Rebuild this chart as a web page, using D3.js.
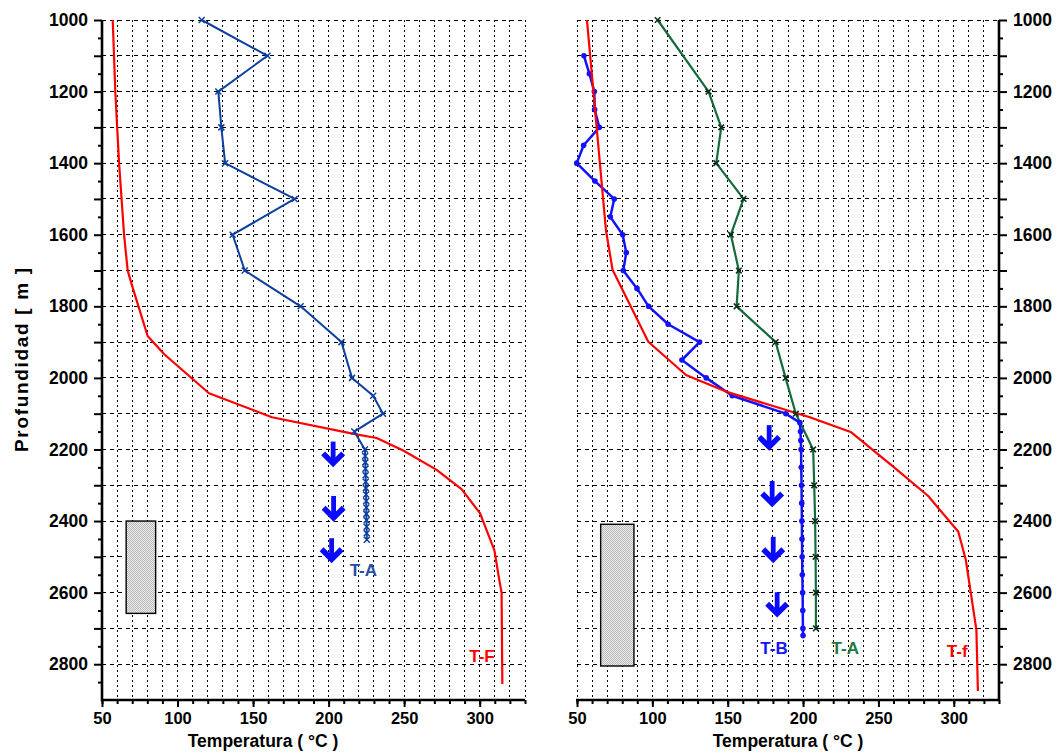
<!DOCTYPE html>
<html>
<head>
<meta charset="utf-8">
<script src="https://cdn.jsdelivr.net/npm/d3@7"></script>
<style>
  html, body { margin: 0; padding: 0; background: #fff; }
  svg { display: block; }
  text { font-family: "Liberation Sans", Arial, sans-serif; font-weight: bold; }
</style>
</head>
<body>
<svg id="chart" width="1057" height="753"></svg>
<script>
// ---------------- DATA ----------------
const xTickValues = [50, 100, 150, 200, 250, 300];
const yTickLabels = [1000, 1200, 1400, 1600, 1800, 2000, 2200, 2400, 2600, 2800];
const xTitle = "Temperatura ( °C )";
const yTitle = "Profundidad  [ m ]";

// Left panel: T-A (measured) and T-F (formation)
const lTA_depth = [1000, 1100, 1200, 1300, 1400, 1500, 1600, 1700, 1800, 1900, 2000, 2050, 2100, 2150,
  2200, 2218, 2236, 2254, 2272, 2290, 2308, 2326, 2344, 2362, 2380, 2398, 2416, 2434, 2452];
const lTA_temp = [116, 159.5, 127, 129, 131.5, 177.5, 136.5, 144.5, 181.5, 208.5, 215.5, 229.5, 236, 217,
  224.0, 224.2, 224.3, 224.4, 224.5, 224.6, 224.7, 224.8, 224.9, 225.0, 225.0, 225.1, 225.2, 225.2, 225.3];

const lTF_depth = [1000, 1200, 1400, 1600, 1700, 1738, 1883, 1934, 2043, 2110, 2157, 2168, 2203, 2257, 2311, 2378, 2481, 2565, 2600, 2855];
const lTF_temp = [57.1, 58.8, 61.3, 64.6, 67.0, 69.6, 80.2, 91.2, 120.8, 162.5, 217.4, 231.8, 249.4, 271.5, 288.0, 300.2, 309.7, 313.0, 314.5, 315.0];

// Right panel: T-B, T-A and T-f
const rTB_depth = [1100, 1150, 1200, 1250, 1300, 1350, 1400, 1450, 1500, 1550, 1600, 1650, 1700, 1750, 1800, 1850, 1900, 1950, 2000, 2050, 2100,
  2125, 2150, 2175, 2200, 2250, 2300, 2350, 2400, 2450, 2500, 2550, 2600, 2650, 2700, 2720];
const rTB_temp = [54.6, 58.2, 61.5, 61.7, 64.8, 54.4, 49.8, 61.9, 74.7, 72.1, 80.3, 82.7, 80.7, 89.8, 97.5, 110.5, 131.3, 119.6, 135.7, 153, 188.6,
  197.9, 198.3, 198.5, 198.7, 198.8, 199.0, 199.1, 199.2, 199.3, 199.4, 199.5, 199.7, 199.8, 199.9, 200.0];

const rTA_depth = [1000, 1200, 1300, 1400, 1500, 1600, 1700, 1800, 1900, 2000, 2100, 2200, 2300, 2400, 2500, 2600, 2700];
const rTA_temp = [103.5, 137.3, 145.7, 142.4, 160.5, 152.1, 157.4, 155.9, 181.8, 188.4, 195.2, 206.7, 207.4, 208.0, 208.3, 208.5, 208.5];

const rTf_depth = [1000, 1587, 1698, 1899, 1992, 2039, 2110, 2152, 2252, 2330, 2430, 2509, 2704, 2875];
const rTf_temp = [56.6, 69.2, 73.6, 97.3, 122.3, 149.3, 204.5, 232, 261, 283, 303, 308, 315, 316];

// Annotation arrows (temperature, top depth, bottom depth)
const lArrowT = [203, 203.3, 202];
const lArrowTop = [2178, 2330, 2448];
const lArrowBottom = [2250, 2402, 2518];
const rArrowT = [177.5, 179.5, 180.2, 182.8];
const rArrowTop = [2132, 2288, 2444, 2599];
const rArrowBottom = [2204, 2362, 2518, 2670];

// Hatched blocks (temperature span, depth span)
const lRectT = [66, 85.5];
const lRectD = [2400, 2658];
const rRectT = [65.7, 87.8];
const rRectD = [2409, 2805];

// Series labels
const lLabelText = ["T-A", "T-F"];
const lLabelT = [223, 301.5];
const lLabelD = [2553, 2793];
const rLabelText = ["T-B", "T-A", "T-f"];
const rLabelT = [180.7, 228, 302.3];
const rLabelD = [2772, 2772, 2779];

// ---------------- STYLES ----------------
const C = {
  leftBlue: "#0d3f9f",
  brightBlue: "#1212ff",
  arrowBlue: "#0a0aff",
  green: "#136b3b",
  greenMark: "#0b2e1c",
  red: "#ff0000",
  leftTALabel: "#1f4ea8",
  greenLabel: "#1e7a40"
};

const svg = d3.select("#chart");
const defs = svg.append("defs");
const pat = defs.append("pattern").attr("id", "hatch").attr("patternUnits", "userSpaceOnUse")
  .attr("width", 2).attr("height", 2);
pat.append("rect").attr("width", 2).attr("height", 2).attr("fill", "#ececec");
pat.append("rect").attr("x", 0).attr("y", 0).attr("width", 1).attr("height", 1).attr("fill", "#b8b8b8");
pat.append("rect").attr("x", 1).attr("y", 1).attr("width", 1).attr("height", 1).attr("fill", "#b8b8b8");

const y = d3.scaleLinear().domain([1000, 2900]).range([20, 700]);
const xL = d3.scaleLinear().domain([50, 330]).range([102, 525]);
const xR = d3.scaleLinear().domain([50, 330]).range([577, 999]);

const gridV = d3.range(50, 331, 10);
const gridH = d3.range(1000, 2900, 100);

function drawPanel(x, side) {
  const g = svg.append("g");
  // grid
  g.append("g").selectAll("line").data(gridV).join("line")
    .attr("x1", d => x(d)).attr("x2", d => x(d))
    .attr("y1", y(1000)).attr("y2", y(2900))
    .attr("stroke", "#000").attr("stroke-width", 1).attr("stroke-dasharray", "2,3")
    .attr("shape-rendering", "crispEdges");
  g.append("g").selectAll("line").data(gridH).join("line")
    .attr("x1", x(50)).attr("x2", x(330))
    .attr("y1", d => y(d)).attr("y2", d => y(d))
    .attr("stroke", "#000").attr("stroke-width", 1).attr("stroke-dasharray", "4,4")
    .attr("shape-rendering", "crispEdges");

  // bottom axis: minor & major
  const minorX = d3.axisBottom(x).tickValues(d3.range(50, 331, 10)).tickSize(4).tickFormat("").tickSizeOuter(0);
  const majorX = d3.axisBottom(x).tickValues(xTickValues).tickSize(7).tickPadding(5).tickSizeOuter(0);
  const gxm = g.append("g").attr("transform", `translate(0,${y(2900)})`).call(minorX);
  const gx = g.append("g").attr("transform", `translate(0,${y(2900)})`).call(majorX);
  [gxm, gx].forEach(a => {
    a.select(".domain").remove();
    a.selectAll(".tick line").attr("stroke", "#000").attr("stroke-width", 2);
  });
  gx.selectAll(".tick text").attr("font-size", 16.5).attr("fill", "#000")
    .attr("font-family", "Liberation Sans, Arial, sans-serif").attr("font-weight", "bold");
  g.append("line").attr("x1", x(50) - 1).attr("x2", x(330) + (side === "right" ? 1 : 0))
    .attr("y1", y(2900)).attr("y2", y(2900)).attr("stroke", "#000").attr("stroke-width", 2.6);

  // vertical axis
  const axisY = side === "left" ? d3.axisLeft : d3.axisRight;
  const ax = side === "left" ? x(50) : x(330);
  const minorY = axisY(y).tickValues(d3.range(1050, 2900, 100)).tickSize(4).tickFormat("").tickSizeOuter(0);
  const majorY = axisY(y).tickValues(d3.range(1000, 2900, 100)).tickSize(8).tickPadding(6).tickSizeOuter(0)
    .tickFormat(d => yTickLabels.includes(d) ? String(d) : "");
  const gym = g.append("g").attr("transform", `translate(${ax},0)`).call(minorY);
  const gy = g.append("g").attr("transform", `translate(${ax},0)`).call(majorY);
  [gym, gy].forEach(a => {
    a.select(".domain").remove();
    a.selectAll(".tick line").attr("stroke", "#000").attr("stroke-width", 2);
  });
  gy.selectAll(".tick text").attr("font-size", 17.5).attr("fill", "#000")
    .attr("font-family", "Liberation Sans, Arial, sans-serif").attr("font-weight", "bold");
  g.append("line").attr("x1", ax).attr("x2", ax).attr("y1", y(1000)).attr("y2", y(2900) + 1.3)
    .attr("stroke", "#000").attr("stroke-width", 2.6);
  return g;
}

const gL = drawPanel(xL, "left");
const gR = drawPanel(xR, "right");

// titles
svg.append("text").attr("x", 263).attr("y", 747).attr("text-anchor", "middle")
  .attr("font-size", 17.5).text(xTitle);
svg.append("text").attr("x", 788).attr("y", 747).attr("text-anchor", "middle")
  .attr("font-size", 17.5).text(xTitle);
svg.append("text").attr("transform", "translate(28,360) rotate(-90)").attr("text-anchor", "middle")
  .attr("font-size", 19).attr("textLength", 184).attr("lengthAdjust", "spacing").text(yTitle);

// helpers
function rect(g, x, tr, dr) {
  g.append("rect").attr("x", x(tr[0])).attr("y", y(dr[0]))
    .attr("width", x(tr[1]) - x(tr[0])).attr("height", y(dr[1]) - y(dr[0]))
    .attr("fill", "url(#hatch)").attr("stroke", "#000").attr("stroke-width", 1.4);
}
function series(g, x, depths, temps, color, width) {
  const pts = depths.map((d, i) => [temps[i], d]);
  g.append("path").datum(pts)
    .attr("d", d3.line().x(p => x(p[0])).y(p => y(p[1])))
    .attr("fill", "none").attr("stroke", color).attr("stroke-width", width)
    .attr("stroke-linejoin", "round");
  return pts;
}
function crosses(g, x, pts, color, s, w) {
  g.append("g").selectAll("path").data(pts).join("path")
    .attr("transform", p => `translate(${x(p[0])},${y(p[1])})`)
    .attr("d", `M${-s},${-s}L${s},${s}M${-s},${s}L${s},${-s}`)
    .attr("stroke", color).attr("stroke-width", w).attr("fill", "none");
}
function dots(g, x, pts, color, r) {
  g.append("g").selectAll("circle").data(pts).join("circle")
    .attr("cx", p => x(p[0])).attr("cy", p => y(p[1])).attr("r", r).attr("fill", color);
}
function arrows(g, x, ts, tops, bottoms, color) {
  ts.forEach((t, i) => {
    const cx = x(t), y0 = y(tops[i]), y1 = y(bottoms[i]);
    g.append("path").attr("d", `M${cx},${y0}L${cx},${y1 - 4}`)
      .attr("stroke", color).attr("stroke-width", 4.8).attr("fill", "none");
    g.append("path").attr("d", `M${cx - 10},${y1 - 14}L${cx},${y1 - 4}L${cx + 10},${y1 - 14}`)
      .attr("stroke", color).attr("stroke-width", 5.5).attr("fill", "none")
      .attr("stroke-linejoin", "miter").attr("stroke-miterlimit", 10);
  });
}
function labels(g, x, texts, ts, ds, colors) {
  texts.forEach((t, i) => {
    g.append("text").attr("x", x(ts[i])).attr("y", y(ds[i])).attr("text-anchor", "middle")
      .attr("font-size", 17).attr("fill", colors[i]).text(t);
  });
}

// ---- left panel marks ----
rect(gL, xL, lRectT, lRectD);
series(gL, xL, lTF_depth, lTF_temp, C.red, 2.2);
const lpts = series(gL, xL, lTA_depth, lTA_temp, C.leftBlue, 2);
crosses(gL, xL, lpts, C.leftBlue, 3, 1.5);
arrows(gL, xL, lArrowT, lArrowTop, lArrowBottom, C.arrowBlue);
labels(gL, xL, lLabelText, lLabelT, lLabelD, [C.leftTALabel, C.red]);

// ---- right panel marks ----
rect(gR, xR, rRectT, rRectD);
const rApts = series(gR, xR, rTA_depth, rTA_temp, C.green, 2.2);
const rBpts = series(gR, xR, rTB_depth, rTB_temp, C.brightBlue, 2.5);
dots(gR, xR, rBpts, C.brightBlue, 2.8);
series(gR, xR, rTf_depth, rTf_temp, C.red, 2.2);
crosses(gR, xR, rApts, C.greenMark, 2.8, 1.6);
arrows(gR, xR, rArrowT, rArrowTop, rArrowBottom, C.arrowBlue);
labels(gR, xR, rLabelText, rLabelT, rLabelD, [C.brightBlue, C.greenLabel, C.red]);
</script>
</body>
</html>
